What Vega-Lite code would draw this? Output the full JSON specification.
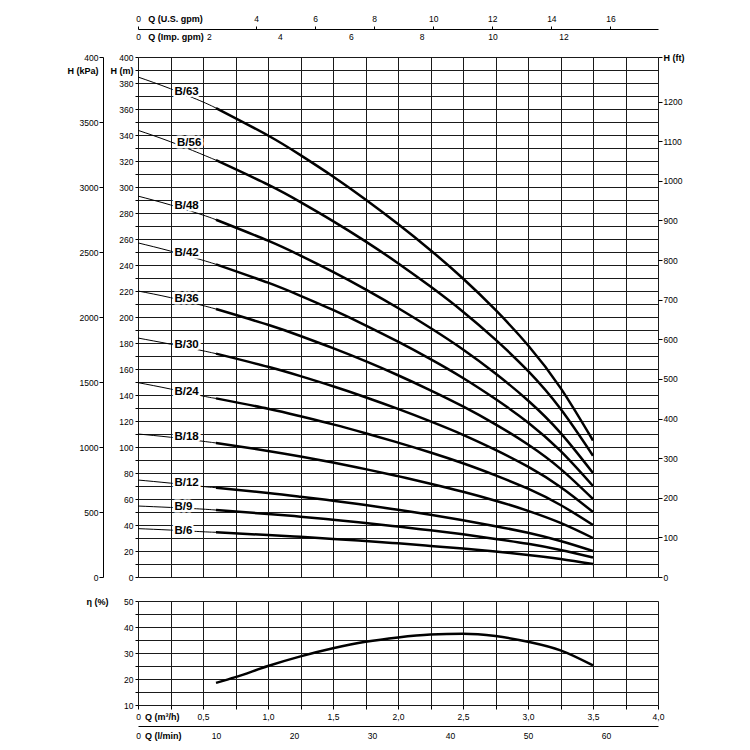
{
  "$schema": "https://vega.github.io/schema/vega-lite/v6.json",
  "background": "white",
  "padding": {"left": 66, "top": 14, "right": 5, "bottom": 5},
  "config": {
    "view": {"stroke": null},
    "axis": {"labelFont": "Liberation Sans", "labelFontSize": 8.5, "labelColor": "#000", "tickColor": "#000", "domainColor": "#000", "gridColor": "#1a1a1a", "gridOpacity": 1, "titleFont": "Liberation Sans", "titleColor": "#000", "labelOverlap": false, "labelFlush": false, "labelBound": false, "domainWidth": 1, "tickWidth": 1, "gridWidth": 1},
    "text": {"font": "Liberation Sans"}
  },
  "datasets": {
    "pump": [
      {"q": 0, "B/63": 384.6, "B/56": 343.6, "B/48": 293.0, "B/42": 257.0, "B/36": 220.0, "B/30": 183.8, "B/24": 149.5, "B/18": 110.0, "B/12": 74.6, "B/9": 54.6, "B/6": 37.2},
      {"q": 0.25, "B/63": 375.6, "B/56": 334.8, "B/48": 286.2, "B/42": 250.7, "B/36": 214.9, "B/30": 179.1, "B/24": 144.6, "B/18": 107.5, "B/12": 72.2, "B/9": 53.5, "B/6": 36.1},
      {"q": 0.5, "B/63": 365.4, "B/56": 324.8, "B/48": 278.4, "B/42": 243.6, "B/36": 208.8, "B/30": 174.0, "B/24": 139.2, "B/18": 104.4, "B/12": 69.6, "B/9": 52.2, "B/6": 34.8},
      {"q": 0.6, "B/63": 360.7, "B/56": 320.6, "B/48": 274.8, "B/42": 240.5, "B/36": 206.1, "B/30": 171.8, "B/24": 137.4, "B/18": 103.1, "B/12": 68.7, "B/9": 51.5, "B/6": 34.4},
      {"q": 1.0, "B/63": 339.6, "B/56": 301.8, "B/48": 258.7, "B/42": 226.4, "B/36": 194.0, "B/30": 161.7, "B/24": 129.4, "B/18": 97.0, "B/12": 64.7, "B/9": 48.5, "B/6": 32.3},
      {"q": 1.25, "B/63": 324.5, "B/56": 288.4, "B/48": 247.2, "B/42": 216.3, "B/36": 185.4, "B/30": 154.5, "B/24": 123.6, "B/18": 92.7, "B/12": 61.8, "B/9": 46.4, "B/6": 30.9},
      {"q": 1.5, "B/63": 308.1, "B/56": 273.8, "B/48": 234.7, "B/42": 205.4, "B/36": 176.0, "B/30": 146.7, "B/24": 117.4, "B/18": 88.0, "B/12": 58.7, "B/9": 44.0, "B/6": 29.3},
      {"q": 1.75, "B/63": 290.4, "B/56": 258.2, "B/48": 221.3, "B/42": 193.6, "B/36": 166.0, "B/30": 138.3, "B/24": 110.6, "B/18": 83.0, "B/12": 55.3, "B/9": 41.5, "B/6": 27.7},
      {"q": 2.0, "B/63": 271.5, "B/56": 241.4, "B/48": 206.9, "B/42": 181.0, "B/36": 155.2, "B/30": 129.3, "B/24": 103.4, "B/18": 77.6, "B/12": 51.7, "B/9": 38.8, "B/6": 25.9},
      {"q": 2.25, "B/63": 251.4, "B/56": 223.4, "B/48": 191.5, "B/42": 167.6, "B/36": 143.6, "B/30": 119.7, "B/24": 95.8, "B/18": 71.8, "B/12": 47.9, "B/9": 35.9, "B/6": 23.9},
      {"q": 2.5, "B/63": 229.6, "B/56": 204.1, "B/48": 175.0, "B/42": 153.1, "B/36": 131.2, "B/30": 109.4, "B/24": 87.5, "B/18": 65.6, "B/12": 43.7, "B/9": 32.8, "B/6": 21.9},
      {"q": 2.75, "B/63": 205.4, "B/56": 182.6, "B/48": 156.5, "B/42": 136.9, "B/36": 117.4, "B/30": 97.8, "B/24": 78.2, "B/18": 58.7, "B/12": 39.1, "B/9": 29.3, "B/6": 19.6},
      {"q": 3.0, "B/63": 178.3, "B/56": 158.5, "B/48": 135.8, "B/42": 118.9, "B/36": 101.9, "B/30": 84.9, "B/24": 67.9, "B/18": 50.9, "B/12": 34.0, "B/9": 25.5, "B/6": 17.0},
      {"q": 3.25, "B/63": 145.5, "B/56": 129.4, "B/48": 110.9, "B/42": 97.0, "B/36": 83.2, "B/30": 69.3, "B/24": 55.4, "B/18": 41.6, "B/12": 27.7, "B/9": 20.8, "B/6": 13.9},
      {"q": 3.5, "B/63": 105.0, "B/56": 93.3, "B/48": 80.0, "B/42": 70.0, "B/36": 60.0, "B/30": 50.0, "B/24": 40.0, "B/18": 30.0, "B/12": 20.0, "B/9": 15.0, "B/6": 10.0}
    ],
    "labels": [
      {"model": "B/63", "q": 0.28, "h": 373.1},
      {"model": "B/56", "q": 0.3, "h": 333.8},
      {"model": "B/48", "q": 0.28, "h": 285.4},
      {"model": "B/42", "q": 0.28, "h": 249.2},
      {"model": "B/36", "q": 0.28, "h": 213.8},
      {"model": "B/30", "q": 0.28, "h": 178.5},
      {"model": "B/24", "q": 0.28, "h": 142.3},
      {"model": "B/18", "q": 0.28, "h": 107.7},
      {"model": "B/12", "q": 0.28, "h": 72.3},
      {"model": "B/9", "q": 0.28, "h": 54.0},
      {"model": "B/6", "q": 0.28, "h": 35.4}
    ],
    "eff": [
      {"q": 0.6, "eta": 18.5},
      {"q": 0.75, "eta": 20.7},
      {"q": 1.0, "eta": 25.0},
      {"q": 1.25, "eta": 28.7},
      {"q": 1.5, "eta": 31.8},
      {"q": 1.75, "eta": 34.3},
      {"q": 2.0, "eta": 36.0},
      {"q": 2.25, "eta": 37.1},
      {"q": 2.5, "eta": 37.4},
      {"q": 2.75, "eta": 36.5},
      {"q": 3.0, "eta": 34.3},
      {"q": 3.25, "eta": 31.0},
      {"q": 3.5, "eta": 25.2}
    ]
  },
  "spacing": 24,
  "bounds": "flush",
  "vconcat": [
    {
      "width": 520,
      "height": 520,
      "resolve": {"axis": {"x": "independent", "y": "independent"}},
      "layer": [
        {
          "data": {"name": "pump"},
          "transform": [
            {"fold": ["B/63", "B/56", "B/48", "B/42", "B/36", "B/30", "B/24", "B/18", "B/12", "B/9", "B/6"], "as": ["model", "h"]},
            {"filter": "datum.q <= 0.6"}
          ],
          "mark": {"type": "line", "color": "#000", "strokeWidth": 1, "interpolate": "natural"},
          "encoding": {
            "x": {"field": "q", "type": "quantitative", "scale": {"domain": [0, 4], "nice": false},
              "axis": {"orient": "bottom", "values": [0, 0.25, 0.5, 0.75, 1, 1.25, 1.5, 1.75, 2, 2.25, 2.5, 2.75, 3, 3.25, 3.5, 3.75, 4], "grid": true, "labels": false, "ticks": false, "domain": false, "title": null}},
            "y": {"field": "h", "type": "quantitative", "scale": {"domain": [0, 400], "nice": false},
              "axis": {"orient": "left", "values": [0, 10, 20, 30, 40, 50, 60, 70, 80, 90, 100, 110, 120, 130, 140, 150, 160, 170, 180, 190, 200, 210, 220, 230, 240, 250, 260, 270, 280, 290, 300, 310, 320, 330, 340, 350, 360, 370, 380, 390, 400],
                "grid": true, "domain": false, "tickSize": 3, "labelPadding": 2,
                "labelExpr": "datum.value == 390 ? 'H (m)' : (datum.value % 20 == 0 ? datum.label : '')",
                "labelFontWeight": {"condition": {"test": "datum.value == 390", "value": "bold"}, "value": "normal"},
                "labelFontSize": {"condition": {"test": "datum.value == 390", "value": 9}, "value": 8.5},
                "title": null}},
            "detail": {"field": "model"}
          }
        },
        {
          "data": {"name": "pump"},
          "transform": [
            {"fold": ["B/63", "B/56", "B/48", "B/42", "B/36", "B/30", "B/24", "B/18", "B/12", "B/9", "B/6"], "as": ["model", "h"]},
            {"filter": "datum.q >= 0.6"}
          ],
          "mark": {"type": "line", "color": "#000", "strokeWidth": 2.5, "interpolate": "natural"},
          "encoding": {
            "x": {"field": "q", "type": "quantitative", "scale": {"domain": [0, 4], "nice": false},
              "axis": {"orient": "top", "offset": 28, "values": [0, 0.075, 0.9085, 1.3627, 1.817, 2.2712, 2.7255, 3.1797, 3.634],
                "grid": false, "domain": true, "tickSize": 3, "labelPadding": 3,
                "labelExpr": "datum.value == 0.075 ? 'Q (U.S. gpm)' : format(round(datum.value / 0.2271247), 'd')",
                "labelAlign": {"condition": {"test": "datum.value == 0.075", "value": "left"}, "value": "center"},
                "labelFontWeight": {"condition": {"test": "datum.value == 0.075", "value": "bold"}, "value": "normal"},
                "labelFontSize": {"condition": {"test": "datum.value == 0.075", "value": 9}, "value": 8.5},
                "tickOpacity": {"condition": {"test": "datum.value == 0.075", "value": 0}, "value": 1},
                "title": null}},
            "y": {"field": "h", "type": "quantitative", "scale": {"domain": [0, 400], "nice": false},
              "axis": {"orient": "left", "offset": 35, "values": [0, 50, 100, 150, 200, 250, 300, 350, 390, 400],
                "grid": false, "domain": true, "tickSize": 4, "labelPadding": 1,
                "labelExpr": "datum.value == 390 ? 'H (kPa)' : (datum.value == 400 ? '400' : format(datum.value * 10, 'd'))",
                "labelFontWeight": {"condition": {"test": "datum.value == 390", "value": "bold"}, "value": "normal"},
                "labelFontSize": {"condition": {"test": "datum.value == 390", "value": 9}, "value": 8.5},
                "tickOpacity": {"condition": {"test": "datum.value == 390", "value": 0}, "value": 1},
                "title": null}},
            "detail": {"field": "model"}
          }
        },
        {
          "data": {"name": "labels"},
          "mark": {"type": "text", "align": "left", "baseline": "middle", "fontSize": 11.5, "fontWeight": "bold", "stroke": "white", "strokeWidth": 5, "strokeJoin": "round", "fill": "white"},
          "encoding": {
            "x": {"field": "q", "type": "quantitative", "scale": {"domain": [0, 4], "nice": false},
              "axis": {"orient": "top", "offset": 14, "values": [0, 0.075, 0.5455, 1.0911, 1.6366, 2.1821, 2.7277, 3.2732],
                "grid": false, "domain": false, "ticks": false, "tickSize": 0, "labelPadding": 2,
                "labelExpr": "datum.value == 0.075 ? 'Q (Imp. gpm)' : format(round(datum.value / 0.2727654), 'd')",
                "labelAlign": {"condition": {"test": "datum.value == 0.075", "value": "left"}, "value": "center"},
                "labelFontWeight": {"condition": {"test": "datum.value == 0.075", "value": "bold"}, "value": "normal"},
                "labelFontSize": {"condition": {"test": "datum.value == 0.075", "value": 9}, "value": 8.5},
                "title": null}},
            "y": {"field": "h", "type": "quantitative", "scale": {"domain": [0, 400], "nice": false},
              "axis": {"orient": "right", "values": [0, 30.48, 60.96, 91.44, 121.92, 152.4, 182.88, 213.36, 243.84, 274.32, 304.8, 335.28, 365.76, 400],
                "grid": false, "domain": false, "tickSize": 4, "labelPadding": 1,
                "labelExpr": "datum.value == 400 ? 'H (ft)' : format(round(datum.value / 0.3048), 'd')",
                "labelFontWeight": {"condition": {"test": "datum.value == 400", "value": "bold"}, "value": "normal"},
                "labelFontSize": {"condition": {"test": "datum.value == 400", "value": 9}, "value": 8.5},
                "title": null}},
            "text": {"field": "model"}
          }
        },
        {
          "data": {"name": "labels"},
          "mark": {"type": "text", "align": "left", "baseline": "middle", "fontSize": 11.5, "fontWeight": "bold", "fill": "#000"},
          "encoding": {
            "x": {"field": "q", "type": "quantitative", "scale": {"domain": [0, 4], "nice": false}, "axis": null},
            "y": {"field": "h", "type": "quantitative", "scale": {"domain": [0, 400], "nice": false}, "axis": null},
            "text": {"field": "model"}
          }
        }
      ]
    },
    {
      "width": 520,
      "height": 104,
      "data": {"name": "eff"},
      "resolve": {"axis": {"x": "independent", "y": "independent"}},
      "layer": [
        {
          "mark": {"type": "line", "color": "#000", "strokeWidth": 2.5, "interpolate": "monotone"},
          "encoding": {
            "x": {"field": "q", "type": "quantitative", "scale": {"domain": [0, 4], "nice": false},
              "axis": {"orient": "bottom", "values": [0, 0.05, 0.25, 0.5, 0.75, 1, 1.25, 1.5, 1.75, 2, 2.25, 2.5, 2.75, 3, 3.25, 3.5, 3.75, 4],
                "grid": true, "domain": false, "tickSize": 4, "labelPadding": 3,
                "gridOpacity": {"condition": {"test": "datum.value == 0.05", "value": 0}, "value": 1},
                "tickOpacity": {"condition": {"test": "datum.value == 0.05", "value": 0}, "value": 1},
                "labelExpr": "datum.value == 0.05 ? 'Q (m³/h)' : (datum.value == 0 ? '0' : ((datum.value * 2) % 1 == 0 ? replace(format(datum.value, '.1f'), '.', ',') : ''))",
                "labelAlign": {"condition": {"test": "datum.value == 0.05", "value": "left"}, "value": "center"},
                "labelFontWeight": {"condition": {"test": "datum.value == 0.05", "value": "bold"}, "value": "normal"},
                "labelFontSize": {"condition": {"test": "datum.value == 0.05", "value": 9}, "value": 8.5},
                "title": null}},
            "y": {"field": "eta", "type": "quantitative", "scale": {"domain": [10, 50], "nice": false},
              "axis": {"orient": "left", "values": [10, 15, 20, 25, 30, 35, 40, 45, 50], "grid": true, "domain": false, "tickSize": 3, "labelPadding": 2,
                "labelExpr": "datum.value % 10 == 0 ? datum.label : ''",
                "title": "η (%)", "titleAngle": 0, "titleAlign": "right", "titleBaseline": "middle", "titleX": -30, "titleY": 0, "titleFontSize": 9, "titleFontWeight": "bold"}}
          }
        },
        {
          "mark": {"type": "line", "opacity": 0},
          "encoding": {
            "x": {"field": "q", "type": "quantitative", "scale": {"domain": [0, 4], "nice": false},
              "axis": {"orient": "bottom", "offset": 21, "values": [0, 0.05, 0.6, 1.2, 1.8, 2.4, 3.0, 3.6],
                "grid": false, "domain": true, "ticks": false, "tickSize": 0, "labelPadding": 5,
                "labelExpr": "datum.value == 0.05 ? 'Q (l/min)' : format(round(datum.value * 1000 / 60), 'd')",
                "labelAlign": {"condition": {"test": "datum.value == 0.05", "value": "left"}, "value": "center"},
                "labelFontWeight": {"condition": {"test": "datum.value == 0.05", "value": "bold"}, "value": "normal"},
                "labelFontSize": {"condition": {"test": "datum.value == 0.05", "value": 9}, "value": 8.5},
                "title": null}},
            "y": {"field": "eta", "type": "quantitative", "scale": {"domain": [10, 50], "nice": false}, "axis": null}
          }
        }
      ]
    }
  ]
}
